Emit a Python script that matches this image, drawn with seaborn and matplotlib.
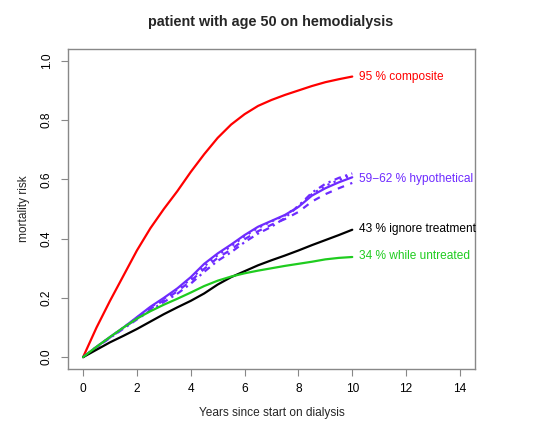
import matplotlib
matplotlib.use("Agg")
from matplotlib import pyplot as plt
import seaborn as sns
import pandas as pd

# years since start on dialysis
years = [0, 0.5, 1, 1.5, 2, 2.5, 3, 3.5, 4, 4.5, 5, 5.5, 6, 6.5, 7, 7.5, 8, 8.5, 9, 9.5, 10]

# cumulative mortality risk
composite = [0, .10, .19, .275, .36, .435, .50, .56, .625, .685, .74, .785, .82, .848, .868, .885, .90, .915, .928, .938, .947]
hypo_solid = [0, .035, .068, .10, .135, .17, .20, .232, .27, .315, .35, .38, .412, .44, .46, .48, .507, .545, .57, .59, .607]
hypo_dashed = [0, .034, .066, .098, .13, .163, .192, .222, .257, .298, .335, .363, .398, .425, .447, .466, .49, .525, .55, .57, .588]
hypo_dotted = [0, .035, .067, .10, .133, .168, .197, .228, .263, .306, .344, .374, .408, .436, .458, .478, .51, .55, .578, .598, .615]
hypo_dotdash = [0, .033, .065, .096, .127, .158, .186, .214, .248, .288, .325, .354, .388, .417, .44, .47, .51, .555, .585, .605, .62]
ignore_treat = [0, .025, .05, .072, .095, .12, .145, .168, .19, .215, .245, .27, .29, .31, .327, .343, .36, .378, .395, .412, .43]
untreated = [0, .035, .068, .10, .13, .155, .177, .197, .218, .24, .258, .272, .283, .292, .30, .308, .315, .322, .33, .335, .338]

end_labels = ["95 % composite", "59\u221262 % hypothetical", "43 % ignore treatment", "34 % while untreated"]
end_label_y = [0.947, 0.60, 0.434, 0.343]

red = "#FF0000"
purple = "#6E2BFF"
green = "#1FCC1F"

sns.set_style("white")
plt.rcParams['font.family'] = ['Liberation Sans', 'DejaVu Sans']

fig = plt.figure(figsize=(5.35, 4.28), dpi=100)
ax = fig.add_axes([68/535, 1-369/428, (475-68)/535, (369-49)/428])

df = pd.DataFrame({'years': years})
lw = 1.6
sns.lineplot(x=df['years'], y=composite, color=red, lw=lw, ax=ax)
sns.lineplot(x=df['years'], y=hypo_dashed, color=purple, lw=lw, ax=ax, linestyle=(0, (3, 3)))
sns.lineplot(x=df['years'], y=hypo_dotted, color=purple, lw=lw, ax=ax, linestyle=(0, (1, 2)))
sns.lineplot(x=df['years'], y=hypo_dotdash, color=purple, lw=lw, ax=ax, linestyle=(0, (1, 2, 3, 2)))
sns.lineplot(x=df['years'], y=hypo_solid, color=purple, lw=lw, ax=ax)
sns.lineplot(x=df['years'], y=ignore_treat, color="black", lw=lw, ax=ax)
sns.lineplot(x=df['years'], y=untreated, color=green, lw=lw, ax=ax)

for lab, yy, c in zip(end_labels, end_label_y, [red, purple, "black", green]):
    ax.text(10.25, yy, lab, color=c, fontsize=8.6, va='center', ha='left')

ax.set_xlim(-0.56, 14.56)
ax.set_ylim(-0.04, 1.04)
ax.set_xticks(range(0, 15, 2))
ax.set_yticks([0, 0.2, 0.4, 0.6, 0.8, 1.0])
ax.set_yticklabels(["0.0", "0.2", "0.4", "0.6", "0.8", "1.0"], rotation=90, va='center')
ax.tick_params(axis='both', direction='out', length=5, width=0.8, color='#888888',
               labelsize=8.6, labelcolor='black', bottom=True, left=True)
ax.tick_params(axis='x', pad=5)
ax.tick_params(axis='y', pad=6)
for s in ax.spines.values():
    s.set_color('#888888')
    s.set_linewidth(1.0)

ax.set_xlabel("Years since start on dialysis", fontsize=8.6, labelpad=9)
ax.set_ylabel("mortality risk", fontsize=8.6, labelpad=8)
fig.text(271/535, 1-22/428, "patient with age 50 on hemodialysis", ha='center', va='center',
         fontsize=10.4, fontweight='bold')

fig.savefig("out.png", dpi=100)
